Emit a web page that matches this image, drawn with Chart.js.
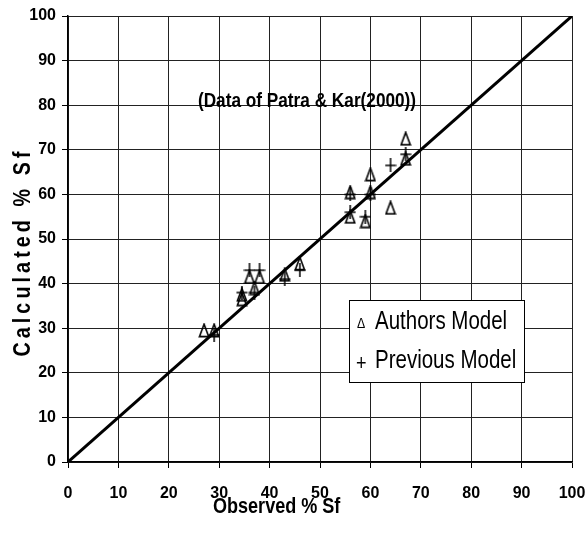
<!DOCTYPE html>
<html>
<head>
<meta charset="utf-8">
<script src="https://cdn.jsdelivr.net/npm/chart.js@4.4.1/dist/chart.umd.min.js"></script>
<style>
  html, body { margin: 0; padding: 0; background: #fff; }
</style>
</head>
<body>
<canvas id="c" width="587" height="546"></canvas>
<script>
const FONT = "'Liberation Sans', Arial, sans-serif";
const SQUEEZE = 0.82; // fake Arial Narrow

// data
const authorsX = [27, 29, 34.5, 34.5, 36, 37, 38, 43, 46, 56, 56, 59, 60, 60, 64, 67, 67];
const authorsY = [29.5, 29.5, 36.5, 37.5, 41.5, 39, 41.5, 42, 44.5, 60.5, 55, 54, 64.5, 60.5, 57, 68, 72.5];
const previousX = [29, 34.5, 36, 37, 38, 43, 46, 56, 56, 59, 60, 64, 67];
const previousY = [28.5, 38, 43, 38, 43, 41, 43, 60, 56, 55, 60, 66.5, 69];
const lineX = [0, 100];
const lineY = [0, 100];
const ticks = [0, 10, 20, 30, 40, 50, 60, 70, 80, 90, 100];

const pts = (xs, ys) => xs.map((x, i) => ({ x: x, y: ys[i] }));

// open tall triangle and plus as point images
function makeTri() {
    const c = document.createElement('canvas');
    c.width = 12; c.height = 15;
    const g = c.getContext('2d');
    g.strokeStyle = '#000'; g.lineWidth = 1.6;
    g.beginPath();
    g.moveTo(6, 1.2); g.lineTo(10.6, 13.6); g.lineTo(1.4, 13.6); g.closePath();
    g.stroke();
    return c;
}
function makePlus() {
    const c = document.createElement('canvas');
    c.width = 12; c.height = 14;
    const g = c.getContext('2d');
    g.strokeStyle = '#000'; g.lineWidth = 1.5;
    g.beginPath();
    g.moveTo(6, 0); g.lineTo(6, 14);
    g.moveTo(0.5, 7); g.lineTo(11.5, 7);
    g.stroke();
    return c;
}

function narrowText(ctx, text, x, y, align) {
    ctx.save();
    ctx.translate(x, y);
    ctx.scale(SQUEEZE, 1);
    ctx.textAlign = align;
    ctx.fillText(text, 0, 0);
    ctx.restore();
}

const overlay = {
    id: 'overlay',
    afterDraw(chart) {
        const ctx = chart.ctx;
        ctx.save();
        ctx.fillStyle = '#000';
        ctx.textBaseline = 'middle';
        // inner title
        ctx.font = 'bold 21px ' + FONT;
        narrowText(ctx, '(Data of Patra & Kar(2000))', 307, 101, 'center');

        // legend box
        ctx.fillStyle = '#fff';
        ctx.fillRect(349, 300, 175, 82);
        ctx.strokeStyle = '#000';
        ctx.lineWidth = 1;
        ctx.strokeRect(349.5, 300.5, 175, 82);
        ctx.fillStyle = '#000';
        ctx.font = '25px ' + FONT;
        narrowText(ctx, 'Authors Model', 375, 322, 'left');
        narrowText(ctx, 'Previous Model', 375, 361, 'left');
        ctx.font = '15px ' + FONT;
        narrowText(ctx, '\u0394', 357, 324, 'left');
        ctx.font = '22px ' + FONT;
        narrowText(ctx, '+', 356, 364, 'left');

        // axis titles
        ctx.font = 'bold 22px ' + FONT;
        narrowText(ctx, 'Observed % Sf', 213, 507, 'left');
        ctx.font = 'bold 24px ' + FONT;
        ctx.translate(23, 252);
        ctx.rotate(-Math.PI / 2);
        ctx.scale(SQUEEZE, 1);
        ctx.textAlign = 'center';
        ctx.letterSpacing = '5px';
        ctx.fillText('Calculated % Sf', 0, 0);
        ctx.restore();
    }
};

const axisBase = {
    type: 'linear',
    min: 0, max: 100,
    afterBuildTicks: s => { s.ticks = ticks.map(v => ({ value: v })); },
    grid: { color: '#222', lineWidth: 1, tickLength: 6, tickColor: '#000', drawTicks: true },
    border: { color: '#000', width: 1.5 },
    ticks: { color: '#000', font: { family: FONT, size: 16, weight: 'bold' } }
};

new Chart(document.getElementById('c'), {
    type: 'scatter',
    data: {
        datasets: [
            {
                type: 'line', label: '1:1', data: pts(lineX, lineY),
                borderColor: '#000', borderWidth: 3, pointRadius: 0, fill: false, order: 3
            },
            {
                label: 'Authors Model', data: pts(authorsX, authorsY),
                pointStyle: makeTri(), order: 1
            },
            {
                label: 'Previous Model', data: pts(previousX, previousY),
                pointStyle: makePlus(), order: 2
            }
        ]
    },
    options: {
        responsive: false,
        animation: false,
        layout: { padding: { left: 0, top: 16, right: 15, bottom: 0 } },
        plugins: { legend: { display: false }, tooltip: { enabled: false } },
        scales: {
            x: Object.assign({}, axisBase, {
                position: 'bottom',
                ticks: Object.assign({}, axisBase.ticks, { padding: 16, maxRotation: 0 }),
                afterFit: s => { s.height = 84; s.paddingLeft = 0; s.paddingRight = 0; }
            }),
            y: Object.assign({}, axisBase, {
                position: 'left',
                ticks: Object.assign({}, axisBase.ticks, { padding: 6 }),
                afterFit: s => { s.width = 68; s.paddingTop = 0; s.paddingBottom = 0; }
            })
        }
    },
    plugins: [overlay]
});
</script>
</body>
</html>
